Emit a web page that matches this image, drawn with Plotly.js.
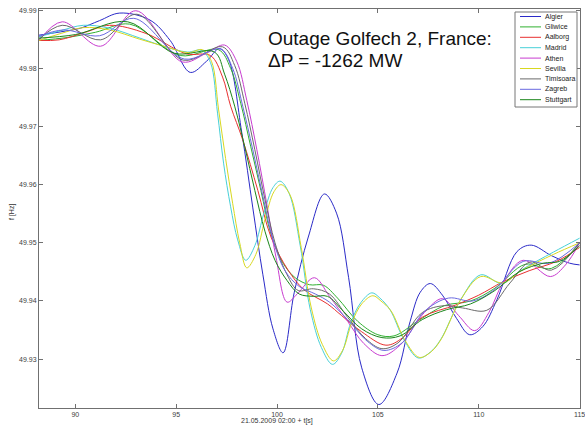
<!DOCTYPE html>
<html>
<head>
<meta charset="utf-8">
<script src="https://cdn.plot.ly/plotly-3.0.1.min.js"></script>
<style>
html,body{margin:0;padding:0;background:#fff;}
#chart{width:585px;height:426px;}
</style>
</head>
<body>
<div id="chart"></div>
<script>
// ---- data ----
const seriesNames  = ["Algier","Gliwice","Aalborg","Madrid","Athen","Sevilla","Timisoara","Zagreb","Stuttgart"];
const seriesColors = ["#2a2ac8","#30b030","#e83030","#48d0d8","#c83cd0","#d8d820","#6a6a6a","#6a6ae0","#1a861a"];

const tAlgier = [88.2,89.5,90.25,91.2,92.2,93.7,94.7,95.7,96.5,97.15,97.6,98.25,98.8,99.3,99.8,100.3,100.85,101.55,102.35,102.95,103.55,104.2,105.05,105.95,106.6,107.1,107.6,108.2,108.9,109.55,110.2,110.9,111.9,112.6,113.6,114.5,115];
const fAlgier = [49.9857,49.9864,49.9869,49.9882,49.9895,49.9883,49.9848,49.9793,49.9812,49.9834,49.9815,49.9690,49.9560,49.9445,49.9352,49.9311,49.9414,49.9510,49.9584,49.9551,49.9440,49.9285,49.9222,49.9276,49.9365,49.9415,49.9430,49.9410,49.9370,49.9342,49.9356,49.9402,49.9485,49.9496,49.9478,49.9465,49.9462];

const tGliwice = [88.2,89.6,91.0,92.7,95.2,97.1,97.7,98.2,98.7,99.2,99.7,100.3,100.9,101.6,102.3,103.0,104.0,105.0,105.8,107.0,108.3,109.6,110.8,112.3,113.6,115];
const fGliwice = [49.9848,49.9853,49.9862,49.9876,49.9822,49.9832,49.9800,49.9740,49.9665,49.9590,49.9515,49.9465,49.9440,49.9428,49.9427,49.9405,49.9365,49.9342,49.9340,49.9366,49.9392,49.9400,49.9422,49.9463,49.9456,49.9500];

const tAalborg = [88.2,89.2,90.5,91.7,93.5,95.5,96.7,97.3,97.7,98.3,99.05,99.7,100.55,101.35,102.5,103.2,104.2,105.4,106.2,107.2,108.85,110.0,111.2,112.5,113.85,115];
const fAalborg = [49.9848,49.9849,49.9862,49.9874,49.9860,49.9825,49.9822,49.9785,49.9735,49.9677,49.9590,49.9510,49.9453,49.9419,49.9395,49.9375,49.9347,49.9324,49.9336,49.9372,49.9393,49.9410,49.9433,49.9452,49.9468,49.9492];

const tMadrid = [88.2,89.2,90.4,91.7,93.2,94.2,95.55,96.25,96.7,97.05,97.35,97.7,98.05,98.45,98.9,99.35,99.8,100.15,100.6,101.15,101.65,102.2,102.75,103.2,103.65,104.15,104.7,105.1,105.6,106.3,107.0,107.6,108.1,109.1,110.1,111.15,112.1,113.7,115];
const fMadrid = [49.9854,49.9864,49.9874,49.9869,49.9852,49.9840,49.9828,49.9831,49.9810,49.9723,49.9637,49.9562,49.9505,49.9470,49.9495,49.9551,49.9595,49.9606,49.9585,49.9495,49.9385,49.9320,49.9291,49.9310,49.9362,49.9397,49.9414,49.9405,49.9385,49.9333,49.9302,49.9312,49.9333,49.9402,49.9445,49.9430,49.9453,49.9484,49.9508];

const tAthen = [88.2,89.35,91.25,93.0,95.3,96.5,97.4,98.0,98.5,99.0,99.5,99.95,100.5,101.0,101.85,102.6,103.5,104.3,105.2,106.1,107.3,108.2,109.0,109.8,110.5,111.2,112.2,113.55,114.3,115];
const fAthen = [49.9848,49.9880,49.9838,49.9899,49.9811,49.9826,49.9840,49.9812,49.9745,49.9660,49.9565,49.9475,49.9398,49.9412,49.9440,49.9408,49.9365,49.9327,49.9306,49.9324,49.9380,49.9404,49.9375,49.9349,49.9380,49.9431,49.9470,49.9442,49.9462,49.9500];

const tSevilla = [88.2,89.3,90.4,91.7,93.2,94.4,95.6,96.3,96.75,97.1,97.45,97.8,98.15,98.5,98.95,99.4,99.85,100.2,100.65,101.2,101.7,102.25,102.8,103.25,103.7,104.2,104.75,105.15,105.65,106.35,107.05,107.65,108.15,109.1,110.1,111.2,112.1,113.7,115];
const fSevilla = [49.9848,49.9860,49.9870,49.9866,49.9850,49.9838,49.9827,49.9832,49.9812,49.9730,49.9645,49.9568,49.9500,49.9457,49.9480,49.9540,49.9588,49.9600,49.9582,49.9492,49.9388,49.9325,49.9297,49.9315,49.9362,49.9395,49.9409,49.9400,49.9383,49.9332,49.9303,49.9313,49.9335,49.9402,49.9442,49.9431,49.9452,49.9480,49.9500];

const tTimisoara = [88.2,89.35,91.25,93.05,95.35,97.3,97.9,98.4,98.9,99.4,99.9,100.5,101.05,101.8,102.6,103.5,104.4,105.2,106.0,107.2,108.3,109.2,110.4,111.55,112.55,113.6,115];
const fTimisoara = [49.9850,49.9874,49.9849,49.9893,49.9814,49.9837,49.9805,49.9740,49.9660,49.9575,49.9500,49.9445,49.9418,49.9421,49.9412,49.9372,49.9335,49.9318,49.9328,49.9380,49.9392,49.9388,49.9384,49.9431,49.9467,49.9453,49.9500];

const tZagreb = [88.2,89.4,91.2,92.9,95.4,97.2,97.8,98.3,98.8,99.3,99.8,100.4,101.1,101.9,102.6,103.5,104.5,105.3,106.2,107.3,108.5,109.7,110.8,112.2,113.5,115];
const fZagreb = [49.9855,49.9866,49.9856,49.9886,49.9816,49.9833,49.9800,49.9735,49.9660,49.9580,49.9505,49.9452,49.9425,49.9412,49.9398,49.9368,49.9330,49.9315,49.9328,49.9382,49.9405,49.9400,49.9420,49.9468,49.9465,49.9500];

const tStuttgart = [88.2,90.0,92.6,94.9,96.9,97.4,97.9,98.4,98.9,99.4,99.9,100.5,101.1,101.8,102.5,103.3,104.2,105.2,106.1,107.2,108.4,109.6,110.8,112.0,113.2,114.0,115];
const fStuttgart = [49.9852,49.9858,49.9880,49.9826,49.9828,49.9790,49.9735,49.9665,49.9590,49.9520,49.9470,49.9435,49.9412,49.9408,49.9408,49.9382,49.9352,49.9337,49.9340,49.9368,49.9385,49.9395,49.9418,49.9450,49.9465,49.9468,49.9495];

const xTickVals = [90,95,100,105,110,115];
const xTickText = ["90","95","100","105","110","115"];
const yTickVals = [49.93,49.94,49.95,49.96,49.97,49.98,49.99];
const yTickText = ["49.93","49.94","49.95","49.96","49.97","49.98","49.99"];

const titleLine1 = "Outage Golfech 2, France:";
const titleLine2 = "\u0394P = -1262 MW";
const xTitle = "21.05.2009 02:00 + t[s]";
const yTitle = "f [Hz]";

// ---- build ----
const tArrays = [tAlgier,tGliwice,tAalborg,tMadrid,tAthen,tSevilla,tTimisoara,tZagreb,tStuttgart];
const fArrays = [fAlgier,fGliwice,fAalborg,fMadrid,fAthen,fSevilla,fTimisoara,fZagreb,fStuttgart];

const traces = seriesNames.map((n,i)=>({
  type:'scatter', mode:'lines', name:n,
  x:tArrays[i], y:fArrays[i],
  line:{color:seriesColors[i], width:1, shape:'spline', smoothing:1},
  hoverinfo:'skip'
}));

// plot area in px: left 39, right 580, top 9, bottom 408
const W=585,H=426, L=39, R=580, T=9, B=408;
const px2x = px => (px-L)/(R-L);
const px2y = py => (B-py)/(B-T);

const shapes = [];
const annotations = [];
// legend box
shapes.push({type:'rect', xref:'paper', yref:'paper',
  x0:px2x(515), x1:px2x(577), y0:px2y(107), y1:px2y(12),
  line:{color:'#777', width:1}, fillcolor:'#fff', layer:'above'});
seriesNames.forEach((n,i)=>{
  const py = 16.5 + i*10.4;
  shapes.push({type:'line', xref:'paper', yref:'paper',
    x0:px2x(520), x1:px2x(541), y0:px2y(py), y1:px2y(py),
    line:{color:seriesColors[i], width:1}, layer:'above'});
  annotations.push({xref:'paper', yref:'paper', x:px2x(543), y:px2y(py),
    xanchor:'left', yanchor:'middle', showarrow:false, text:n,
    font:{family:'Liberation Sans, Arial, sans-serif', size:7, color:'#222'}});
});
// chart title lines
annotations.push({xref:'paper', yref:'paper', x:px2x(266), y:px2y(38),
  xanchor:'left', yanchor:'middle', showarrow:false, text:titleLine1,
  font:{family:'Liberation Sans, Arial, sans-serif', size:19, color:'#111'}});
annotations.push({xref:'paper', yref:'paper', x:px2x(266), y:px2y(60),
  xanchor:'left', yanchor:'middle', showarrow:false, text:titleLine2,
  font:{family:'Liberation Sans, Arial, sans-serif', size:19, color:'#111'}});
// axis titles
annotations.push({xref:'x', yref:'paper', x:100, y:px2y(421),
  xanchor:'center', yanchor:'middle', showarrow:false, text:xTitle,
  font:{family:'Liberation Sans, Arial, sans-serif', size:7, color:'#333'}});
annotations.push({xref:'paper', yref:'paper', x:px2x(12), y:px2y(212),
  xanchor:'center', yanchor:'middle', showarrow:false, text:yTitle, textangle:-90,
  font:{family:'Liberation Sans, Arial, sans-serif', size:7, color:'#333'}});

const axisCommon = {
  showgrid:false, zeroline:false, showline:true, linecolor:'#707070', linewidth:1,
  mirror:'ticks', ticks:'inside', ticklen:4, tickwidth:1, tickcolor:'#707070',
  tickfont:{family:'Liberation Sans, Arial, sans-serif', size:7, color:'#404040'},
  ticklabeloverflow:'allow',
  fixedrange:true
};

const layout = {
  width:W, height:H,
  margin:{l:L, r:W-R, t:T, b:H-B, pad:0},
  paper_bgcolor:'#fff', plot_bgcolor:'#fff',
  showlegend:false,
  xaxis:Object.assign({}, axisCommon, {range:[88.2,115.02], tickmode:'array', tickvals:xTickVals, ticktext:xTickText}),
  yaxis:Object.assign({}, axisCommon, {range:[49.9216,49.9902], tickmode:'array', tickvals:yTickVals, ticktext:yTickText}),
  shapes:shapes, annotations:annotations
};

Plotly.newPlot('chart', traces, layout, {staticPlot:true, displayModeBar:false});
</script>
</body>
</html>
